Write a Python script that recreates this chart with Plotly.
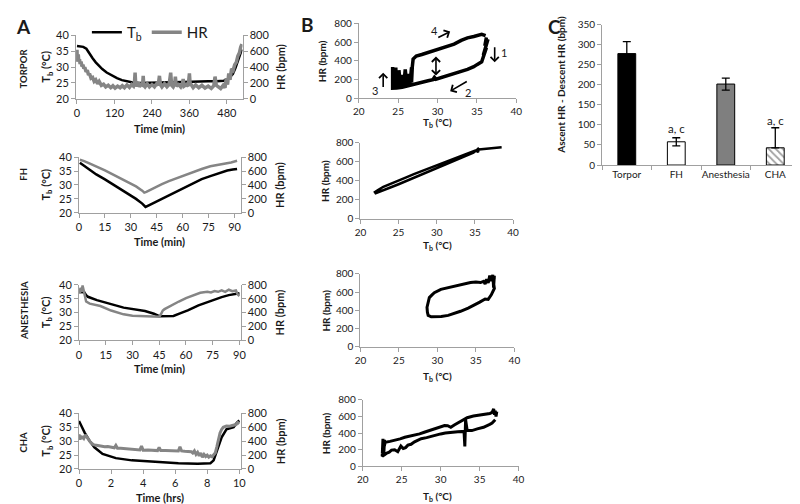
import plotly.graph_objects as go

# ---------------- Panel A data (time courses) ----------------
torpor_tb_t = [0, 10, 20, 30, 40, 50, 60, 70, 81, 95, 112, 128, 144, 160, 175, 200, 227, 260, 300, 340, 384, 420, 447, 470, 483, 492, 499, 507, 514, 520, 525, 528]
torpor_tb = [36.7, 36.6, 36.4, 35.8, 34.1, 32.8, 31.5, 30.4, 29.4, 28.3, 27.3, 26.5, 25.9, 25.5, 25.2, 25.0, 25.0, 25.0, 25.2, 25.3, 25.5, 25.5, 25.5, 25.7, 26.2, 27.0, 27.8, 29.6, 31.5, 33.3, 35.1, 35.6]
torpor_hr_t = [0, 1, 2, 3, 4, 6, 8, 10, 13, 16, 19, 22, 25, 29, 33, 37, 40, 45, 50, 55, 60, 66, 71, 78, 85, 92, 100, 108, 115, 122, 130, 138, 145, 152, 160, 168, 175, 181, 184, 186, 188, 192, 196, 200, 205, 210, 212, 214, 218, 225, 232, 240, 248, 255, 260, 264, 267, 272, 280, 288, 295, 300, 303, 308, 313, 315, 318, 325, 332, 338, 340, 343, 350, 356, 360, 362, 366, 372, 380, 390, 400, 410, 420, 430, 438, 442, 446, 452, 460, 468, 474, 478, 482, 486, 490, 495, 500, 505, 510, 515, 520, 524, 528]
torpor_hr = [620, 470, 600, 500, 560, 470, 500, 440, 470, 410, 430, 380, 400, 340, 360, 300, 320, 260, 270, 220, 240, 190, 220, 170, 185, 150, 170, 140, 165, 135, 160, 140, 165, 140, 175, 145, 180, 160, 200, 330, 190, 160, 210, 150, 180, 170, 290, 170, 150, 190, 150, 180, 150, 190, 170, 290, 180, 150, 190, 150, 180, 330, 170, 150, 190, 280, 160, 180, 150, 200, 250, 160, 180, 160, 320, 200, 170, 140, 175, 140, 170, 135, 160, 130, 165, 280, 170, 150, 130, 170, 140, 260, 180, 320, 240, 380, 360, 430, 460, 540, 580, 650, 690]

fh_tb_t = [0.5, 3.4, 6, 10, 15, 19.5, 24, 29, 33, 36.6, 38.5, 40.4, 44, 48, 52, 57.4, 62, 67, 71, 76, 81, 85.8, 89, 91.5]
fh_tb = [38.0, 36.7, 35.3, 33.8, 32.0, 30.3, 28.5, 26.8, 25.0, 23.3, 22.1, 22.7, 23.8, 25.0, 26.4, 28.0, 29.5, 30.9, 32.1, 33.2, 34.3, 35.2, 35.6, 35.8]
fh_hr_t = [0.5, 3, 6, 10, 15, 19.5, 24, 29, 33, 36.6, 37.8, 39, 40.4, 44, 48, 52, 57.4, 62, 67, 71, 76, 81, 85.8, 88, 91.5]
fh_hr = [763, 745, 712, 669, 612, 552, 495, 435, 380, 318, 290, 300, 318, 365, 412, 455, 505, 555, 599, 630, 669, 690, 716, 725, 749]

an_tb_t = [0, 3, 4, 5, 10, 18, 25, 37, 42, 45, 50, 53, 57, 61, 67, 74, 80, 84, 88, 90]
an_tb = [37.4, 37.3, 36.3, 35.7, 34.5, 33.0, 31.8, 30.6, 29.6, 28.7, 28.6, 28.8, 29.8, 30.8, 32.6, 34.3, 35.6, 36.3, 36.8, 37.0]
an_hr_t = [0, 0.5, 1, 1.5, 2, 2.5, 3, 3.5, 4, 6, 8, 12, 18, 25, 30, 37, 42, 45, 46, 47, 48, 50, 53, 56, 60, 64, 68, 72, 74, 76, 78, 80, 82, 84, 86, 88, 89, 90]
an_hr = [750, 680, 760, 700, 790, 720, 650, 580, 560, 530, 515, 495, 430, 375, 355, 345, 345, 340, 380, 430, 450, 480, 520, 560, 610, 650, 685, 700, 690, 710, 700, 720, 700, 730, 710, 720, 660, 640]

cha_tb_t = [0, 0.14, 0.35, 0.65, 0.96, 1.47, 2.3, 3.3, 4.7, 6.2, 7.4, 8.2, 8.4, 8.6, 8.9, 9.2, 9.65, 9.86, 10.0]
cha_tb = [37.3, 35.5, 33.1, 30.2, 27.8, 25.4, 23.9, 23.1, 22.5, 22.1, 21.9, 22.1, 23.1, 26.6, 31.4, 34.3, 35.1, 36.7, 37.5]
cha_hr_t = [0, 0.05, 0.1, 0.15, 0.2, 0.3, 0.4, 0.5, 0.6, 0.7, 0.8, 0.9, 1.0, 1.2, 1.4, 1.6, 1.8, 2.0, 2.2, 2.3, 2.4, 2.6, 2.8, 3.0, 3.3, 3.6, 3.8, 3.9, 4.0, 4.3, 4.6, 4.9, 5.0, 5.1, 5.4, 5.7, 6.0, 6.2, 6.3, 6.4, 6.6, 6.8, 7.0, 7.1, 7.2, 7.3, 7.4, 7.5, 7.6, 7.7, 7.8, 7.9, 8.0, 8.1, 8.2, 8.3, 8.4, 8.5, 8.6, 8.7, 8.8, 8.9, 9.0, 9.1, 9.2, 9.4, 9.6, 9.8, 9.9, 10.0]
cha_hr = [500, 420, 480, 430, 470, 440, 490, 450, 410, 390, 370, 350, 345, 335, 330, 320, 325, 310, 305, 340, 300, 300, 295, 290, 285, 280, 275, 330, 270, 275, 270, 265, 310, 265, 265, 260, 265, 260, 320, 260, 255, 255, 250, 230, 260, 210, 240, 190, 230, 170, 210, 180, 200, 170, 190, 175, 200, 230, 320, 420, 520, 570, 600, 610, 620, 615, 625, 640, 670, 650]

# ---------------- Panel B data (HR vs Tb loops) ----------------
b_torpor_tb = [36.2, 36.0, 36.4, 35.9, 36.3, 35.8, 36.2, 35.7, 36.0, 35.6, 35.0, 34.6, 33.8, 32.9, 32.0, 31.2, 30.4, 29.8, 29.6, 29.4, 28.8, 27.9, 27.0, 26.2, 25.5, 24.8, 24.3, 24.3, 24.4, 24.5, 24.6, 24.7, 24.8, 24.9, 25.0, 25.1, 25.3, 25.5, 25.7, 25.9, 26.1, 26.3, 26.5, 26.7, 26.7, 26.8, 26.9, 27.3, 28.0, 28.8, 29.6, 30.4, 31.2, 32.1, 33.0, 33.8, 34.6, 35.2, 35.6, 36.1]
b_torpor_hr = [650, 560, 630, 500, 600, 460, 540, 420, 470, 390, 360, 338, 310, 285, 258, 235, 215, 205, 225, 200, 188, 168, 148, 132, 120, 112, 110, 335, 115, 310, 115, 330, 120, 270, 120, 300, 130, 250, 135, 310, 150, 260, 160, 330, 170, 340, 420, 452, 468, 490, 508, 525, 550, 578, 618, 645, 660, 672, 682, 668]

b_fh_tb = [38.5, 37.8, 37.0, 36.2, 35.5, 35.0, 34.0, 33.0, 32.0, 31.0, 30.0, 29.0, 28.0, 27.0, 26.0, 25.0, 24.0, 23.0, 22.3, 21.9, 22.0, 22.5, 23.0, 24.0, 25.0, 26.0, 27.0, 28.0, 29.0, 30.0, 31.0, 32.0, 33.0, 34.0, 34.8, 35.2, 35.4, 35.5, 35.3]
b_fh_hr = [752, 748, 742, 735, 728, 715, 685, 655, 625, 595, 565, 532, 500, 468, 435, 402, 368, 335, 300, 280, 268, 282, 298, 330, 362, 396, 430, 465, 500, 535, 568, 600, 635, 668, 695, 720, 700, 730, 745]

b_an_tb = [37.4, 37.3, 37.4, 37.2, 37.0, 36.6, 36.2, 35.5, 34.7, 34.0, 33.0, 32.2, 31.4, 30.5, 29.8, 29.2, 28.8, 28.7, 28.65, 28.8, 28.95, 29.3, 29.6, 30.45, 31.2, 32.15, 33.2, 34.3, 35.0, 35.6, 36.0, 36.2, 36.4, 36.6, 36.8, 37.0, 37.2, 37.3, 37.4]
b_an_hr = [760, 700, 640, 600, 570, 520, 525, 490, 452, 425, 390, 365, 345, 332, 328, 330, 345, 380, 434, 490, 540, 570, 594, 630, 645, 665, 690, 705, 710, 705, 718, 690, 740, 700, 780, 720, 790, 650, 780]

b_cha_tb = [37.0, 36.6, 36.3, 35.5, 34.7, 34.0, 33.4, 33.2, 33.1, 33.0, 32.2, 31.3, 30.6, 30.0, 29.4, 28.8, 28.2, 27.5, 27.0, 26.65, 26.2, 25.8, 25.5, 25.2, 24.9, 24.5, 24.1, 23.7, 23.4, 23.1, 22.8, 22.5, 22.6, 22.7, 22.8, 22.5, 22.9, 22.6, 22.9, 23.5, 24.1, 24.8, 25.4, 26.0, 26.65, 27.3, 27.9, 28.5, 29.2, 30.0, 30.5, 30.9, 31.3, 31.8, 32.5, 33.0, 33.4, 34.2, 34.8, 35.5, 36.0, 36.3, 36.6, 36.8, 36.9, 37.0, 37.1, 37.2]
b_cha_hr = [560, 520, 505, 470, 450, 430, 430, 560, 240, 420, 415, 410, 400, 390, 375, 352, 345, 332, 310, 295, 265, 255, 225, 215, 245, 176, 200, 195, 170, 160, 140, 120, 330, 130, 320, 150, 300, 180, 290, 300, 312, 330, 350, 360, 372, 390, 410, 430, 450, 476, 490, 488, 470, 500, 538, 560, 585, 605, 615, 625, 630, 635, 650, 690, 620, 670, 600, 660]

# ---------------- Panel C data ----------------
c_groups = ["Torpor", "FH", "Anesthesia", "CHA"]
c_values = [278, 58, 202, 43]
c_err_plus = [30, 10, 15, 50]
c_err_minus = [30, 10, 15, 0]
c_letters = ["", "a, c", "", "a, c"]
c_letter_y = [0, 90, 0, 112]

# ---------------- styling ----------------
W, H = 800, 504
FONT = "Lato"
AX = "#a0a0a0"
BLACK = "#000000"
GRAY = "#858585"


def xd(a, b):
    return [a / W, b / W]


def yd(top, bottom):
    return [1 - bottom / H, 1 - top / H]


def axis(size=11, **kw):
    d = dict(showline=True, linecolor=AX, linewidth=1, ticks="outside", ticklen=4,
             tickcolor=AX, tickwidth=1, showgrid=False, zeroline=False,
             tickfont=dict(family=FONT, size=size, color="#1a1a1a"), fixedrange=True)
    d.update(kw)
    return d


fig = go.Figure()

# Panel A traces
a_sets = [
    (torpor_tb_t, torpor_tb, torpor_hr_t, torpor_hr, "x", "y", "y2", 3.5),
    (fh_tb_t, fh_tb, fh_hr_t, fh_hr, "x2", "y3", "y4", 2.5),
    (an_tb_t, an_tb, an_hr_t, an_hr, "x3", "y5", "y6", 2.5),
    (cha_tb_t, cha_tb, cha_hr_t, cha_hr, "x4", "y7", "y8", 3),
]
for i, (tt, tb, ht, hr, xa, ya, ya2, hw) in enumerate(a_sets):
    fig.add_trace(go.Scatter(x=tt, y=tb, mode="lines", line=dict(color=BLACK, width=2.5),
                             xaxis=xa, yaxis=ya, name="T<sub>b</sub>", showlegend=(i == 0),
                             legendrank=1))
    fig.add_trace(go.Scatter(x=ht, y=hr, mode="lines", line=dict(color=GRAY, width=hw),
                             xaxis=xa, yaxis=ya2, name="HR", showlegend=(i == 0),
                             legendrank=2))

# Panel B traces
b_sets = [
    (b_torpor_tb, b_torpor_hr, "x5", "y9", 3.5),
    (b_fh_tb, b_fh_hr, "x6", "y10", 2.5),
    (b_an_tb, b_an_hr, "x7", "y11", 3),
    (b_cha_tb, b_cha_hr, "x8", "y12", 3),
]
for tb, hr, xa, ya, lw in b_sets:
    fig.add_trace(go.Scatter(x=tb, y=hr, mode="lines", line=dict(color=BLACK, width=lw),
                             xaxis=xa, yaxis=ya, showlegend=False))

# Panel C bars
fig.add_trace(go.Bar(
    x=c_groups, y=c_values, xaxis="x9", yaxis="y13", showlegend=False,
    marker=dict(color=[BLACK, "#ffffff", "#7f7f7f", "#ffffff"],
                line=dict(color=BLACK, width=1),
                pattern=dict(shape=["", "", "", "\\"], fgcolor=BLACK, bgcolor="#ffffff",
                             size=5, solidity=0.35)),
    error_y=dict(type="data", array=c_err_plus, arrayminus=c_err_minus, color=BLACK,
                 thickness=1.3, width=4),
))

layout = dict(
    width=W, height=H, margin=dict(l=0, r=0, t=0, b=0),
    paper_bgcolor="white", plot_bgcolor="white",
    font=dict(family=FONT, color="#1a1a1a"),
    bargap=0.64,
    showlegend=True,
    legend=dict(orientation="h", x=74 / W, y=1 - 1 / H, xanchor="left", yanchor="top",
                font=dict(family=FONT, size=15, color="#1a1a1a"), bgcolor="rgba(0,0,0,0)",
                itemwidth=30, tracegroupgap=0),
)

# A axes
a_geo = [
    ((63, 232), (21, 86), [-3, 530], [0, 120, 240, 360, 480]),
    ((66, 230), (146, 203), [0, 93.5], [0, 15, 30, 45, 60, 75, 90]),
    ((66, 230), (277, 334), [0, 90.6], [0, 15, 30, 45, 60, 75, 90]),
    ((66, 230), (409, 466), [0, 10.08], [0, 2, 4, 6, 8, 10]),
]
for i, (xs, ys, xr, xt) in enumerate(a_geo):
    xn = "xaxis" if i == 0 else f"xaxis{i + 1}"
    yl = 2 * i + 1
    yr = 2 * i + 2
    yln = "yaxis" if yl == 1 else f"yaxis{yl}"
    yrn = f"yaxis{yr}"
    xref = "x" if i == 0 else f"x{i + 1}"
    yref = "y" if yl == 1 else f"y{yl}"
    layout[xn] = axis(domain=xd(*xs), range=xr, tickvals=xt, anchor=yref)
    layout[yln] = axis(domain=yd(*ys), range=[20, 40], dtick=5, anchor=xref)
    layout[yrn] = axis(range=[0, 800], dtick=200, anchor=xref, overlaying=yref, side="right")

# B axes
b_geo = [
    ((350, 510), (8.5, 85.7)),
    ((351.7, 506.7), (131, 209)),
    ((351.7, 508), (265.7, 340.7)),
    ((354, 512.3), (395, 463.3)),
]
for i, (xs, ys) in enumerate(b_geo):
    xi = 5 + i
    yi = 9 + i
    layout[f"xaxis{xi}"] = axis(size=10, domain=xd(*xs), range=[20, 40], dtick=5, anchor=f"y{yi}")
    layout[f"yaxis{yi}"] = axis(size=10, domain=yd(*ys), range=[0, 800], dtick=200, anchor=f"x{xi}")

# C axes
layout["xaxis9"] = axis(size=10, domain=xd(597, 798), anchor="y13", tickson="boundaries",
                        ticklen=4, tickangle=0)
layout["yaxis13"] = axis(size=10, domain=yd(10, 154), range=[0, 350], dtick=50, anchor="x9")

fig.update_layout(**layout)

ann = []


def txt(x, y, text, size=10.5, bold=True, angle=0, xref="paper", yref="paper", color="#1a1a1a"):
    t = f"<b>{text}</b>" if bold else text
    ann.append(dict(x=x / W if xref == "paper" else x, y=(1 - y / H) if yref == "paper" else y,
                    xref=xref, yref=yref, text=t, showarrow=False, textangle=angle,
                    xanchor="center", yanchor="middle",
                    font=dict(family=FONT, size=size, color=color)))


# Panel letters
txt(10, 12, "A", size=19)
txt(298, 10, "B", size=19)
txt(549, 12, "C", size=19)

# Panel A labels
row_labels = ["TORPOR", "FH", "ANESTHESIA", "CHA"]
row_y = [55, 163, 303, 438]
time_labels = ["Time (min)", "Time (min)", "Time (min)", "Time (hrs)"]
time_y = [117, 232, 363, 495]
for i, (xs, ys, xr, xt) in enumerate(a_geo):
    cy = (ys[0] + ys[1]) / 2
    txt(10, row_y[i], row_labels[i], size=9.5, angle=-90)
    txt(33, cy, "T<sub>b</sub> (°C)", size=11, angle=-90)
    txt(270, cy, "HR (bpm)", size=11, angle=-90)
    txt(148, time_y[i], time_labels[i], size=11)

# Panel B labels
bx_title_y = [110, 237, 371, 494]
by_title_x = [313, 315, 317, 317]
for i, (xs, ys) in enumerate(b_geo):
    cy = (ys[0] + ys[1]) / 2
    txt(by_title_x[i], cy, "HR (bpm)", size=10, angle=-90)
    txt(430, bx_title_y[i], "T<sub>b</sub> (°C)", size=10)

# Panel B1 arrows (head x, head y, tail x, tail y)
arrows = [
    (37.25, 385, 37.25, 560, "end"),
    (31.6, 78, 33.9, 190, "end"),
    (23.1, 275, 23.1, 105, "end"),
    (31.6, 712, 29.9, 640, "end"),
    (29.8, 245, 29.8, 462, "end+start"),
]
for hx, hy, tx, ty, side in arrows:
    ann.append(dict(x=hx, y=hy, ax=tx, ay=ty, xref="x5", yref="y9", axref="x5", ayref="y9",
                    showarrow=True, arrowhead=4, arrowsize=1.0, arrowwidth=1.6,
                    arrowcolor=BLACK, arrowside=side, text=""))
for x, y, t in [(38.4, 485, "1"), (33.9, 60, "2"), (22.1, 80, "3"), (29.6, 725, "4")]:
    txt(x, y, t, size=11, bold=False, xref="x5", yref="y9")

# Panel C labels
txt(555, 72, "Ascent HR - Descent HR (bpm)", size=10, angle=-90)
for g, l, ly in zip(c_groups, c_letters, c_letter_y):
    if l:
        ann.append(dict(x=g, y=ly, xref="x9", yref="y13", text=l, showarrow=False,
                        xanchor="center", yanchor="middle",
                        font=dict(family=FONT, size=11.5, color="#1a1a1a")))

fig.update_layout(annotations=ann)
fig.write_html("out.html")
